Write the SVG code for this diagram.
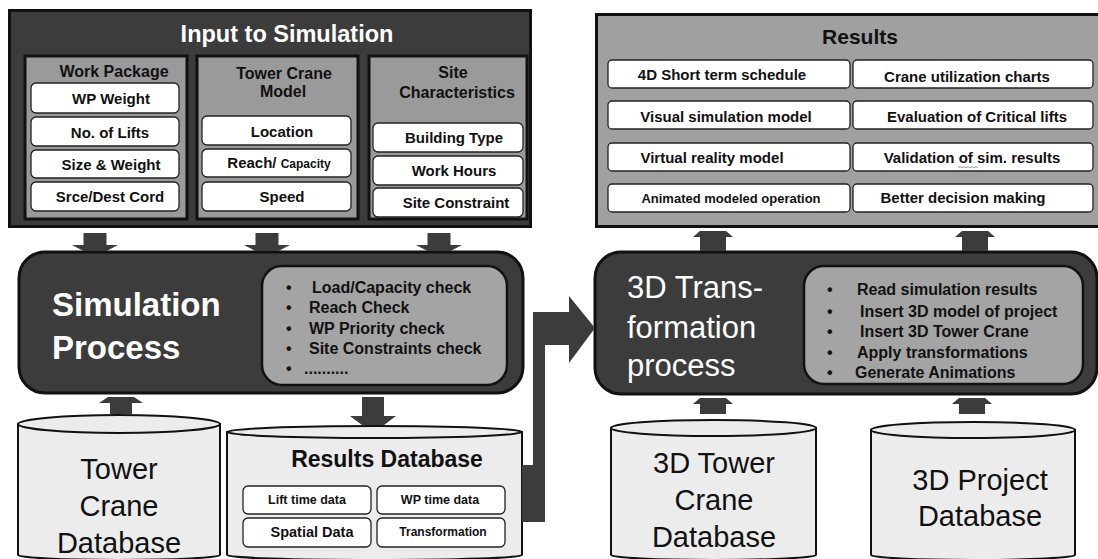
<svg xmlns="http://www.w3.org/2000/svg" width="1098" height="559" viewBox="0 0 1098 559">
<style>
text{font-family:"Liberation Sans",Arial,sans-serif}
.blk{fill:#3c3c3c;stroke:#111;stroke-width:3}
.col{fill:#9a9a9a;stroke:#111;stroke-width:3}
.res{fill:#a0a0a0;stroke:#111;stroke-width:3}
.box{fill:#fff;stroke:#222;stroke-width:1.3}
.inner{fill:#a4a4a4;stroke:#111;stroke-width:2.5}
.db{fill:#ececec;stroke:#111;stroke-width:2}
.arr{fill:#3c3c3c}
.t{font-weight:bold;font-size:15px;fill:#111;text-anchor:middle}
.h{font-weight:bold;font-size:16px;fill:#111;text-anchor:middle}
.bl{font-weight:bold;font-size:16px;fill:#111}
.big{font-size:29px;fill:#111;text-anchor:middle}
.wt{fill:#fff}
</style>
<rect width="1098" height="559" fill="#fff"/>

<g id="input-to-simulation">
<rect class="blk" x="9.5" y="10.5" width="521" height="216"/>
<text x="287" y="42" class="wt" style="font-weight:bold;font-size:23.5px;text-anchor:middle">Input to Simulation</text>
</g>

<g id="work-package">
<rect class="col" x="25" y="56" width="162" height="163"/>
<text class="h" x="114" y="77">Work Package</text>
<rect class="box" x="31" y="83" width="148" height="30" rx="5"/>
<text class="t" x="111" y="104">WP Weight</text>
<rect class="box" x="31" y="117" width="148" height="29" rx="5"/>
<text class="t" x="110" y="138">No. of Lifts</text>
<rect class="box" x="31" y="150" width="148" height="28" rx="5"/>
<text class="t" x="111" y="170">Size &amp; Weight</text>
<rect class="box" x="31" y="182" width="148" height="29" rx="5"/>
<text class="t" x="110" y="202">Srce/Dest Cord</text>
</g>

<g id="tower-crane-model">
<rect class="col" x="197" y="56" width="161" height="163"/>
<text class="h" x="284" y="79">Tower Crane</text>
<text class="h" x="283" y="97">Model</text>
<rect class="box" x="202" y="116" width="149" height="29" rx="5"/>
<text class="t" x="282" y="137">Location</text>
<rect class="box" x="202" y="149" width="149" height="28" rx="5"/>
<text class="t" x="279" y="168">Reach/ <tspan style="font-size:12px">Capacity</tspan></text>
<rect class="box" x="202" y="182" width="149" height="29" rx="5"/>
<text class="t" x="282" y="202">Speed</text>
</g>

<g id="site-characteristics">
<rect class="col" x="369" y="56" width="158" height="163"/>
<text class="h" x="453" y="78">Site</text>
<text class="h" x="457" y="98">Characteristics</text>
<rect class="box" x="373" y="123" width="150" height="29" rx="5"/>
<text class="t" x="454" y="143">Building Type</text>
<rect class="box" x="373" y="156" width="150" height="29" rx="5"/>
<text class="t" x="454" y="176">Work Hours</text>
<rect class="box" x="373" y="188" width="150" height="29" rx="5"/>
<text class="t" x="456" y="208">Site Constraint</text>
</g>

<g id="results">
<rect class="res" x="596.5" y="14.5" width="503" height="212"/>
<text x="860" y="44" style="font-weight:bold;font-size:21px;fill:#111;text-anchor:middle">Results</text>
<rect class="box" x="608" y="60" width="242" height="28" rx="4"/>
<text class="t" x="722" y="80">4D Short term schedule</text>
<rect class="box" x="853" y="60" width="240" height="28" rx="4"/>
<text class="t" x="967" y="82">Crane utilization charts</text>
<rect class="box" x="608" y="101" width="242" height="28" rx="4"/>
<text class="t" x="726" y="122">Visual simulation model</text>
<rect class="box" x="853" y="101" width="240" height="28" rx="4"/>
<text class="t" x="977" y="122">Evaluation of Critical lifts</text>
<rect class="box" x="608" y="143" width="242" height="28" rx="4"/>
<text class="t" x="712" y="163">Virtual reality model</text>
<rect class="box" x="853" y="143" width="240" height="28" rx="4"/>
<text class="t" x="972" y="163">Validation of sim. results</text>
<path d="M958,168 l2,-1.5 l2,1.5 l2,-1.5 l2,1.5 l2,-1.5 l2,1.5 l2,-1.5 l2,1.5 l2,-1.5 l2,1.5" fill="none" stroke="#777" stroke-width="0.8"/>
<rect class="box" x="608" y="184" width="242" height="28" rx="4"/>
<text class="t" x="731" y="203" style="font-size:13px">Animated modeled operation</text>
<rect class="box" x="853" y="184" width="240" height="28" rx="4"/>
<text class="t" x="963" y="203">Better decision making</text>
</g>

<g id="simulation-process">
<rect class="blk" x="19" y="252" width="504" height="141" rx="26"/>
<text x="52" y="316" class="wt" style="font-weight:bold;font-size:33px">Simulation</text>
<text x="52" y="359" class="wt" style="font-weight:bold;font-size:33px">Process</text>
<rect class="inner" x="262" y="266" width="245" height="119" rx="20"/>
<text class="bl" x="286" y="293">•</text><text class="bl" x="312" y="293">Load/Capacity check</text>
<text class="bl" x="286" y="313">•</text><text class="bl" x="309" y="313">Reach Check</text>
<text class="bl" x="286" y="334">•</text><text class="bl" x="309" y="334">WP Priority check</text>
<text class="bl" x="286" y="354">•</text><text class="bl" x="309" y="354">Site Constraints check</text>
<text class="bl" x="286" y="374">•</text><text class="bl" x="304" y="374">..........</text>
</g>

<g id="transformation-process">
<rect class="blk" x="595" y="252" width="502" height="142" rx="26"/>
<text x="627" y="298" class="wt" style="font-size:31px">3D Trans-</text>
<text x="627" y="338" class="wt" style="font-size:31px">formation</text>
<text x="627" y="376" class="wt" style="font-size:31px">process</text>
<rect class="inner" x="804" y="266" width="279" height="118" rx="20"/>
<text class="bl" x="827" y="295">•</text><text class="bl" x="857" y="295">Read simulation results</text>
<text class="bl" x="827" y="317">•</text><text class="bl" x="860" y="317">Insert 3D model of project</text>
<text class="bl" x="827" y="337">•</text><text class="bl" x="860" y="337">Insert 3D Tower Crane</text>
<text class="bl" x="827" y="358">•</text><text class="bl" x="857" y="358">Apply transformations</text>
<text class="bl" x="827" y="378">•</text><text class="bl" x="855" y="378">Generate Animations</text>
</g>

<g id="tower-crane-database">
<path class="db" d="M18,424 V555 A101,5 0 0 0 220,555 V424 Z"/>
<ellipse class="db" cx="119" cy="424" rx="101" ry="9"/>
<text class="big" x="119" y="479">Tower</text>
<text class="big" x="119" y="516">Crane</text>
<text class="big" x="119" y="553">Database</text>
</g>

<g id="results-database">
<path class="db" d="M227,432 V555 A147.5,5 0 0 0 522,555 V432 Z"/>
<ellipse class="db" cx="374.5" cy="432" rx="147.5" ry="6"/>
<text x="387" y="467" style="font-weight:bold;font-size:23px;fill:#111;text-anchor:middle">Results Database</text>
<rect class="box" x="243" y="486" width="128" height="28" rx="5"/>
<text class="t" x="307" y="504" style="font-size:12.5px">Lift time data</text>
<rect class="box" x="377" y="486" width="128" height="28" rx="5"/>
<text class="t" x="440" y="504" style="font-size:12.5px">WP time data</text>
<rect class="box" x="243" y="518" width="128" height="29" rx="5"/>
<text class="t" x="312" y="537" style="font-size:14.5px">Spatial Data</text>
<rect class="box" x="377" y="518" width="128" height="29" rx="5"/>
<text class="t" x="443" y="536" style="font-size:12px">Transformation</text>
</g>

<g id="tower-crane-3d-database">
<path class="db" d="M611,428 V555 A102.5,5 0 0 0 816,555 V428 Z"/>
<ellipse class="db" cx="713.5" cy="428" rx="102.5" ry="8"/>
<text class="big" x="714" y="473">3D Tower</text>
<text class="big" x="714" y="510">Crane</text>
<text class="big" x="714" y="547">Database</text>
</g>

<g id="project-3d-database">
<path class="db" d="M871,430 V555 A102,5 0 0 0 1075,555 V430 Z"/>
<ellipse class="db" cx="973" cy="430" rx="102" ry="8"/>
<text class="big" x="980" y="490">3D Project</text>
<text class="big" x="980" y="526">Database</text>
</g>

<g id="connectors">
<polygon class="arr" points="83.5,233 106.5,233 106.5,245 118,245 106.5,251 83.5,251 72,245 83.5,245"/>
<polygon class="arr" points="255.5,233 278.5,233 278.5,245 290,245 278.5,251 255.5,251 244,245 255.5,245"/>
<polygon class="arr" points="427.5,233 450.5,233 450.5,245 462,245 450.5,251 427.5,251 416,245 427.5,245"/>
<polygon class="arr" points="700,231 726,231 733,237 726,237 726,251 700,251 700,237 693,237"/>
<polygon class="arr" points="962,231 988,231 995,237 988,237 988,251 962,251 962,237 955,237"/>
<polygon class="arr" points="108,397 134,397 143,403 132,403 132,414 110,414 110,403 99,403"/>
<polygon class="arr" points="362,397 384,397 384,416 396,416 384,425 362,425 350,416 362,416"/>
<polygon class="arr" points="700,398 726,398 733,404 726,404 726,414 700,414 700,404 693,404"/>
<polygon class="arr" points="959,398 985,398 992,404 985,404 985,414 959,414 959,404 952,404"/>
<path class="arr" d="M533,312 H569 V296 L595,328 L569,363 V345 H545 V522 H522 V465 H533 Z"/>
</g>
</svg>
